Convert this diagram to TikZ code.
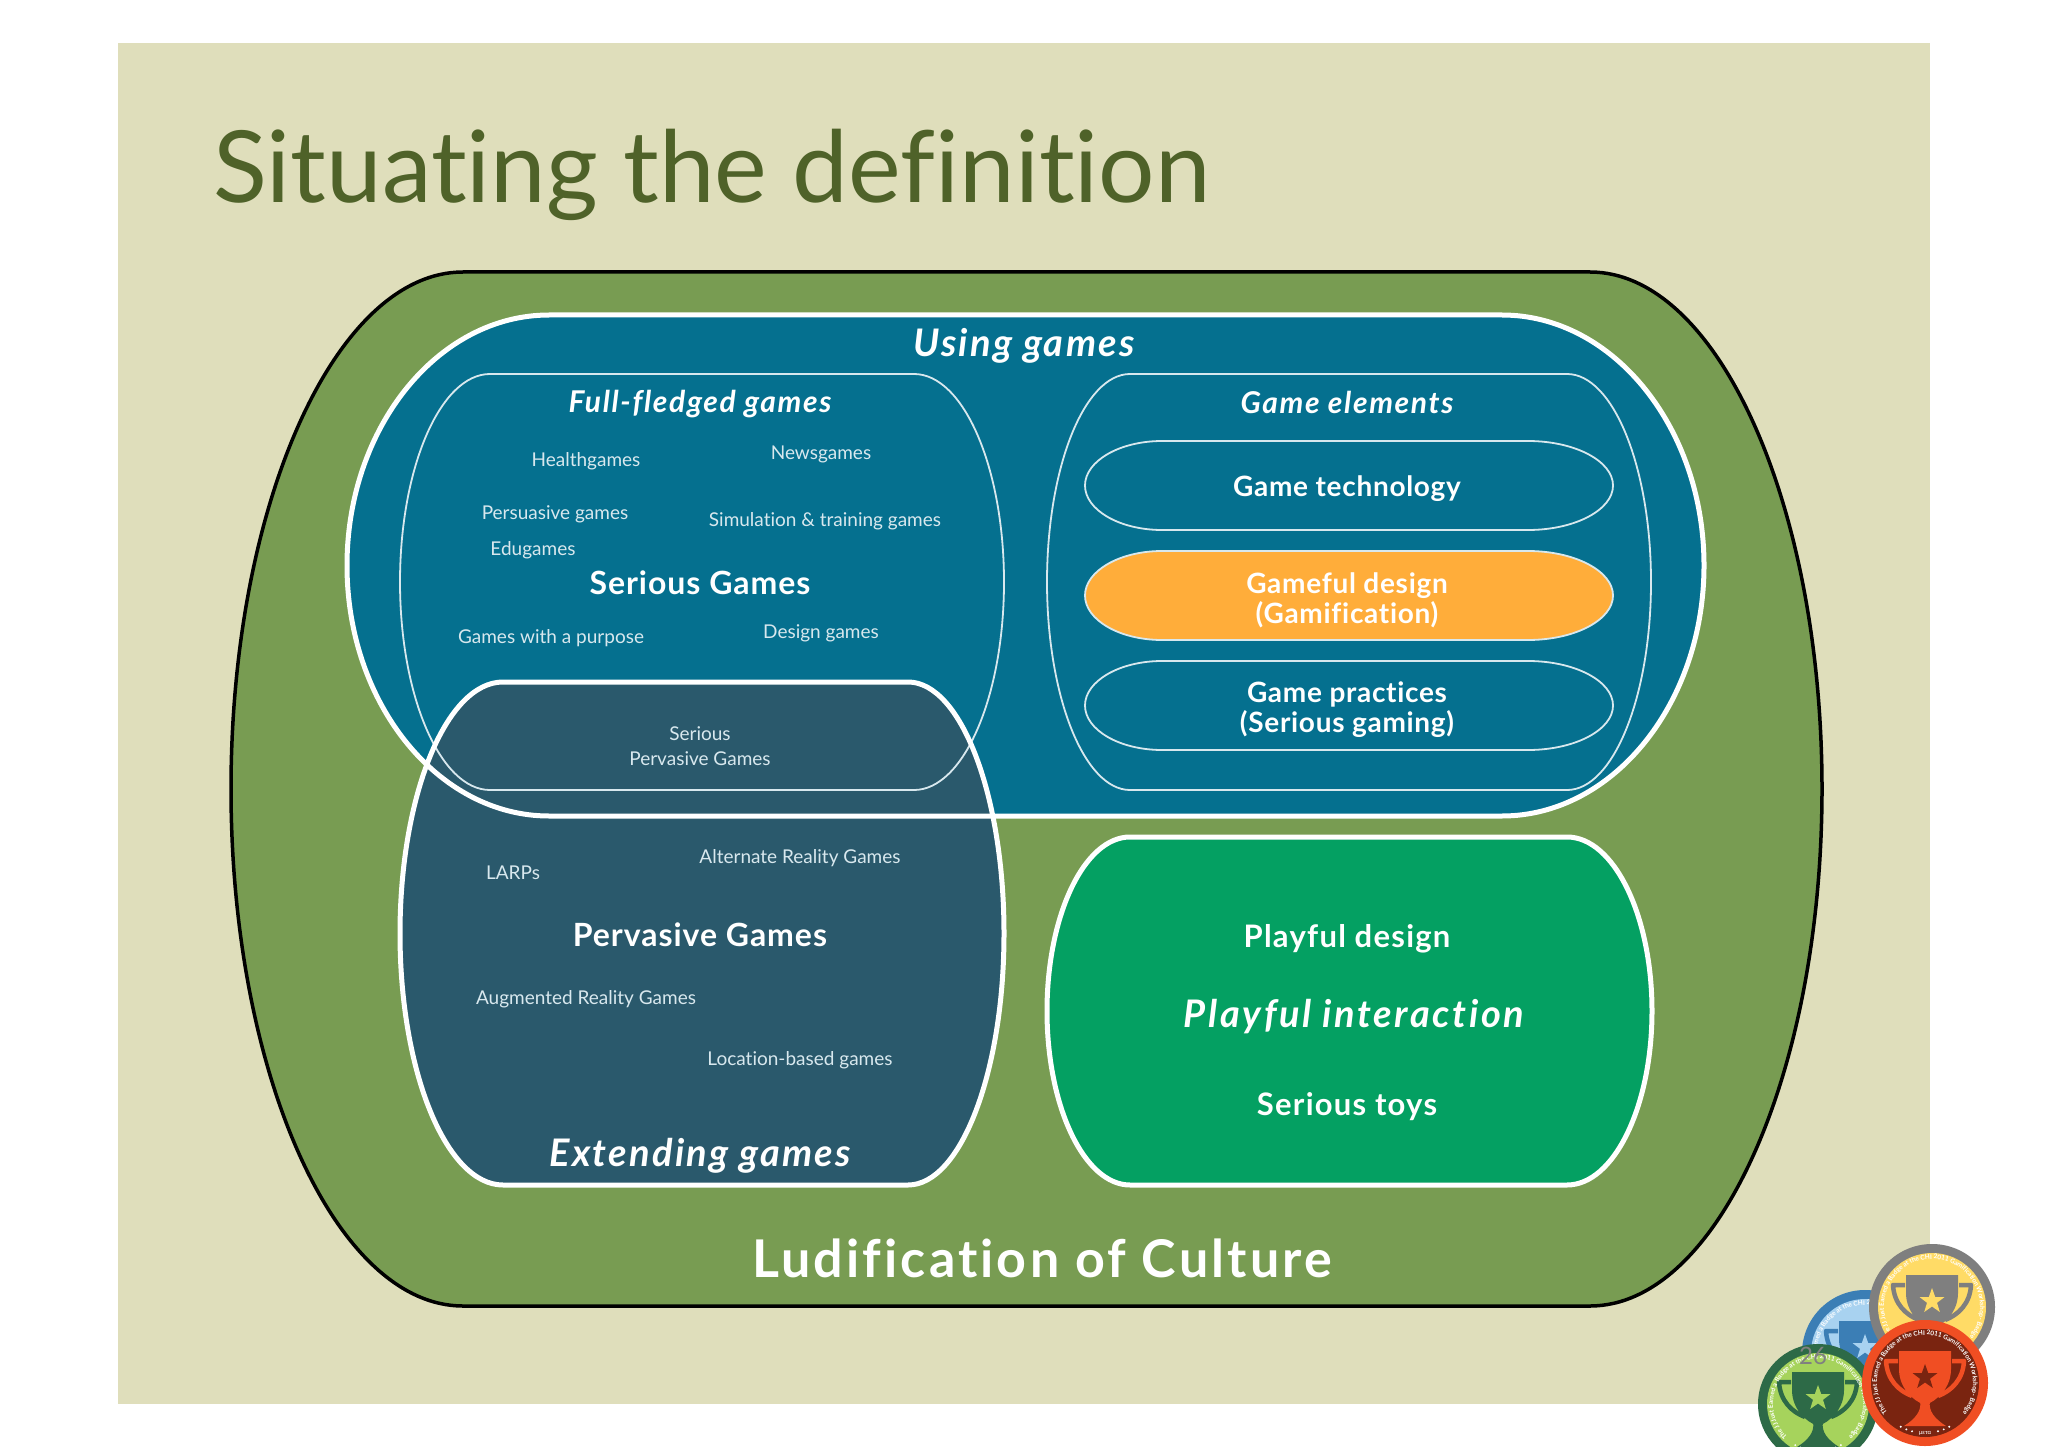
\documentclass[tikz,border=0pt]{standalone}
\usepackage{fontspec}
\setmainfont{Lato}[Ligatures=NoCommon]
\usetikzlibrary{decorations.text}
\definecolor{slidebg}{HTML}{DFDEBB}
\definecolor{ludic}{HTML}{789C52}
\definecolor{usingc}{HTML}{05708F}
\definecolor{extc}{HTML}{2A596C}
\definecolor{playc}{HTML}{04A062}
\definecolor{orangec}{HTML}{FFAD3A}
\definecolor{titlec}{HTML}{4F6229}
\definecolor{softw}{HTML}{D8E8EE}
\definecolor{blring}{HTML}{3B7EB5}
\definecolor{blin}{HTML}{A8D2F0}
\definecolor{yering}{HTML}{7F7F7F}
\definecolor{yein}{HTML}{FFDB66}
\definecolor{grring}{HTML}{2D6A47}
\definecolor{grin}{HTML}{A6D35C}
\definecolor{rering}{HTML}{F04E23}
\definecolor{rein}{HTML}{7A2410}
\newcommand{\bsp}[3]{\fontsize{#1pt}{#3pt}\selectfont\bfseries\addfontfeature{LetterSpace=#2}}
\newcommand{\bisp}[3]{\fontsize{#1pt}{#3pt}\selectfont\bfseries\itshape\addfontfeature{LetterSpace=#2}}
\newcommand{\blob}[7]{%
  \pgfmathsetmacro{\bm}{(#3+#4)/2}%
  \pgfmathsetmacro{\bk}{.55*(#4-#3)/2}%
  \pgfmathsetmacro{\bxl}{#5-.55*(#5-#1)}%
  \pgfmathsetmacro{\bxr}{#6+.55*(#2-#6)}%
  \path[#7] (#5,#3) -- (#6,#3) .. controls (\bxr,#3) and (#2,\bm-\bk) .. (#2,\bm)
    .. controls (#2,\bm+\bk) and (\bxr,#4) .. (#6,#4) -- (#5,#4)
    .. controls (\bxl,#4) and (#1,\bm+\bk) .. (#1,\bm)
    .. controls (#1,\bm-\bk) and (\bxl,#3) .. (#5,#3) -- cycle;}
% badge: x y radius ring inner trophy star
\newcommand{\badge}[7]{%
  \begin{scope}[shift={(#1,#2)}]
    \fill[#4] (0,0) circle (#3);
    \fill[#5] (0,0) circle (#3-9);
    \draw[#6,line width=4.5pt,line join=round] (-27,-22) -- (-39,-22) .. controls (-38,-3) and (-26,8) .. (-13,13);
    \draw[#6,line width=4.5pt,line join=round] (27,-22) -- (39,-22) .. controls (38,-3) and (26,8) .. (13,13);
    \fill[#6] (-26,-32) -- (26,-32) -- (26,-14) .. controls (26,5) and (12,18) .. (0,22) .. controls (-12,18) and (-26,5) .. (-26,-14) -- cycle;
    \fill[#6] (-5,18) .. controls (-3,28) and (-10,36) .. (-21,43) -- (21,43) .. controls (10,36) and (3,28) .. (5,18) -- cycle;
    \fill[#7] (0,-19) -- (3.2,-10) -- (12.5,-10) -- (5,-4.2) -- (7.8,5) -- (0,-0.5) -- (-7.8,5) -- (-5,-4.2) -- (-12.5,-10) -- (-3.2,-10) -- cycle;
    \path[y=1pt,postaction={decorate},decoration={text along path,text align={center},
      text={|\fontsize{6.4pt}{7pt}\selectfont\bfseries\color{white}|The JJ Just Earned a Badge at the CHI 2011 Gamification Workshop- Badge}}]
      (232:#3-15) arc[start angle=232,end angle=-52,radius=#3-15];
    \foreach \da in {105,112,119,61,68,75} \fill[white] ({(#3-13)*cos(\da)},{(#3-13)*sin(\da)}) circle (1.1);
  \end{scope}}
\tikzset{
  x=1pt,y=-1pt,
  lbl/.style={text=white,align=center,inner sep=0pt},
  thin label/.style={lbl,text=softw,font=\fontsize{19pt}{23pt}\selectfont},
  gamehead/.style={lbl,font=\bsp{28}{2.5}{30}},
  playhead/.style={lbl,font=\bsp{31}{4}{34}},
  bighead/.style={lbl,font=\bsp{32}{3}{34}},
  headi/.style={lbl,font=\bisp{30}{5.5}{32}},
  heavyline/.style={draw=white,line width=5pt},
  fineline/.style={draw=softw,line width=1.8pt},
}
\begin{document}
\begin{tikzpicture}
\clip (0,0) rectangle (2048,1447);
\fill[white] (0,0) rectangle (2048,1447);
\fill[slidebg] (118,43) rectangle (1930,1404);
\node[anchor=base west,inner sep=0pt,text=titlec,font=\fontsize{99.6pt}{110pt}\selectfont] (title) at (213,203) {Situating the definition};
% outer
\blob{231}{1822}{272}{1306}{463}{1590}{fill=ludic,draw=black,line width=3.5pt}
% using
\blob{347}{1704}{315}{816}{549}{1502}{fill=usingc}
% extending
\blob{400}{1004}{682}{1185}{503}{908}{fill=extc}
% playful
\blob{1047}{1652}{837}{1185}{1130}{1567}{fill=playc,heavyline}
% full-fledged / elements
\blob{400}{1004}{374}{790}{490}{914}{fineline}
\blob{1047}{1651}{374}{790}{1130}{1567}{fineline}
\blob{1085}{1613}{441}{530}{1162}{1528}{fineline}
\blob{1085}{1613}{551}{640}{1162}{1528}{fill=orangec,fineline}
\blob{1085}{1613}{661}{750}{1162}{1528}{fineline}
% outlines on top
\blob{347}{1704}{315}{816}{549}{1502}{heavyline}
\blob{400}{1004}{682}{1185}{503}{908}{heavyline}
% labels
\node[headi,font=\bisp{38}{6}{40}] (using) at (1024,346) {Using games};
\node[headi] (full) at (700,404) {Full-fledged games};
\node[headi] (elements) at (1347,402) {Game elements};
\node[thin label] (health) at (586,461) {Healthgames};
\node[thin label] (news) at (821,454) {Newsgames};
\node[thin label] (persu) at (555,514) {Persuasive games};
\node[thin label] (simul) at (825,521) {Simulation \& training games};
\node[thin label] (edu) at (533,550) {Edugames};
\node[bighead] (serious) at (700,583) {Serious Games};
\node[thin label] (purpose) at (551,638) {Games with a purpose};
\node[thin label] (design) at (821,633) {Design games};
\node[thin label,font=\fontsize{19pt}{25pt}\selectfont] (spg) at (700,746) {Serious\\Pervasive Games};
\node[thin label] (arg) at (800,858) {Alternate Reality Games};
\node[thin label] (larp) at (513,873) {LARPs};
\node[bighead] (perv) at (700,935) {Pervasive Games};
\node[thin label] (aug) at (586,999) {Augmented Reality Games};
\node[thin label] (loc) at (800,1060) {Location-based games};
\node[headi,font=\bisp{38}{6}{40}] (ext) at (700,1156) {Extending games};
\node[gamehead] (tech) at (1347,489) {Game technology};
\node[gamehead] (gameful) at (1347,600) {Gameful design\\(Gamification)};
\node[gamehead] (pract) at (1347,710) {Game practices\\(Serious gaming)};
\node[playhead] (pdesign) at (1347,939) {Playful design};
\node[headi,font=\bisp{38}{7}{40}] (pinter) at (1354,1017) {Playful interaction};
\node[playhead] (toys) at (1347,1107) {Serious toys};
\node[lbl,font=\bsp{52}{6}{56}] (ludi) at (1042,1258) {Ludification of Culture};
% badges
\badge{1865}{1353}{63}{blring}{blin}{blring}{blin}
\badge{1932}{1307}{63}{yering}{yein}{yering}{yein}
\badge{1818}{1404}{60}{grring}{grin}{grring}{grin}
\node[inner sep=0pt,text=gray,font=\fontsize{24pt}{26pt}\selectfont] (pagenum) at (1813,1356) {26};
\badge{1925}{1383}{63}{rering}{rein}{rering}{rein}
\node[inner sep=0pt,text=white,font=\fontsize{6pt}{7pt}\selectfont] (meta) at (1925,1433) {μετα};
\end{tikzpicture}
\end{document}
